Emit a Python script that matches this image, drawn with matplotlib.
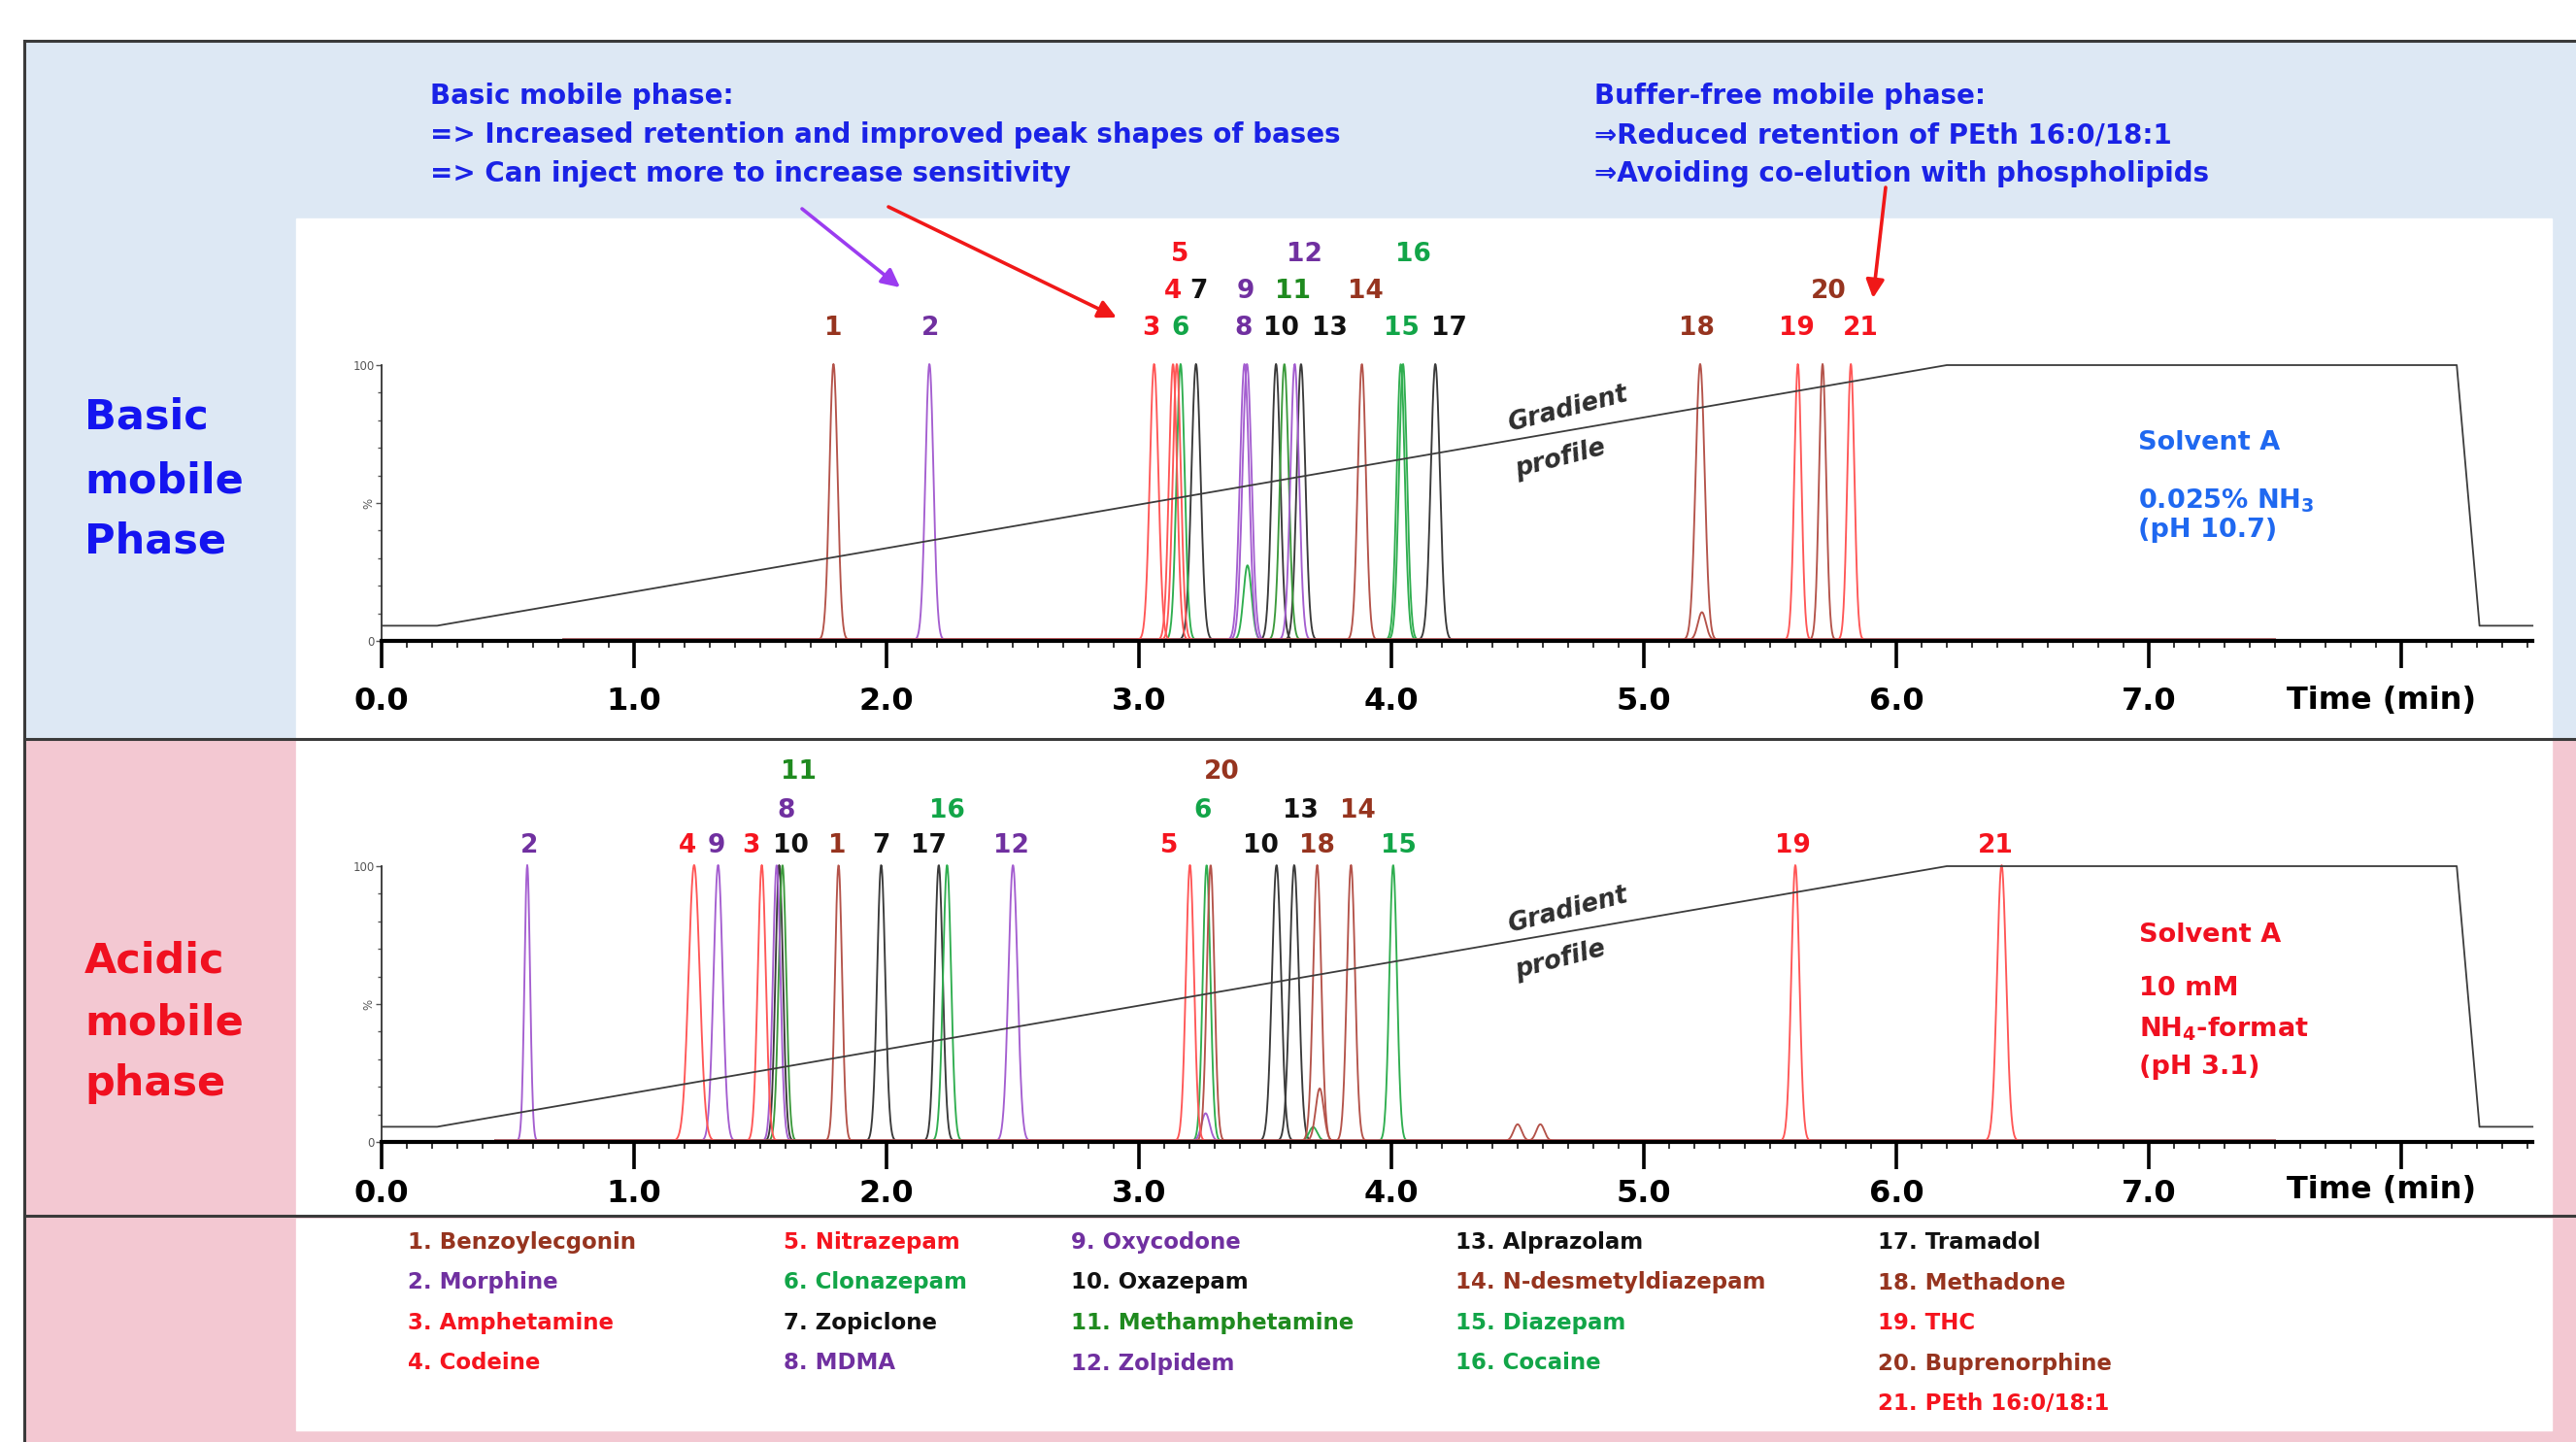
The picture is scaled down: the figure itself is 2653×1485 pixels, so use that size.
import numpy as np
import matplotlib.pyplot as plt
from matplotlib.patches import Rectangle, FancyArrowPatch

W, H = 2653, 1485

# compounds (legend order) and colour group
compounds = ['Benzoylecgonin', 'Morphine', 'Amphetamine', 'Codeine', 'Nitrazepam', 'Clonazepam',
             'Zopiclone', 'MDMA', 'Oxycodone', 'Oxazepam', 'Methamphetamine', 'Zolpidem',
             'Alprazolam', 'N-desmetyldiazepam', 'Diazepam', 'Cocaine', 'Tramadol', 'Methadone',
             'THC', 'Buprenorphine', 'PEth 16:0/18:1']
compound_group = ['brown', 'purple', 'red', 'red', 'red', 'green', 'black', 'purple', 'purple',
                  'black', 'dkgreen', 'purple', 'black', 'brown', 'green', 'green', 'black',
                  'brown', 'red', 'brown', 'red']
legend_counts = [4, 4, 4, 4, 5]

# basic mobile phase chromatogram
basic_ids = [1, 2, 3, 4, 5, 6, 7, 8, 9, 10, 11, 12, 13, 14, 15, 16, 17, 18, 19, 20, 21]
basic_rt = [1.79, 2.17, 3.06, 3.135, 3.15, 3.165, 3.226, 3.418, 3.428, 3.543, 3.576,
            3.617, 3.642, 3.883, 4.037, 4.046, 4.174, 5.223, 5.61, 5.708, 5.82]
basic_height = [100, 100, 100, 100, 100, 100, 100, 100, 100, 100, 100,
                100, 100, 100, 100, 100, 100, 100, 100, 100, 100]
basic_sd = [0.016, 0.016, 0.017, 0.016, 0.016, 0.016, 0.018, 0.018, 0.018, 0.017, 0.017,
            0.017, 0.017, 0.016, 0.016, 0.016, 0.018, 0.018, 0.014, 0.014, 0.014]
basic_minor_ids = [6, 20]
basic_minor_rt = [3.43, 5.23]
basic_minor_height = [27, 10]
basic_span = [0.72, 7.5]

basic_label_ids = [1, 2, 3, 6, 8, 10, 13, 15, 17, 18, 19, 21, 4, 7, 9, 11, 14, 20, 5, 12, 16]
basic_label_x = [1.79, 2.175, 3.046, 3.165, 3.412, 3.565, 3.755, 4.042, 4.229, 5.21, 5.604, 5.86,
                 3.133, 3.238, 3.422, 3.608, 3.896, 5.73, 3.162, 3.655, 4.088]
basic_label_row = [0] * 12 + [1] * 6 + [2] * 3

# acidic mobile phase chromatogram
acid_ids = [2, 4, 9, 3, 8, 10, 11, 1, 7, 17, 16, 12, 5, 6, 20, 10, 13, 18, 14, 15, 19, 21]
acid_rt = [0.577, 1.238, 1.333, 1.506, 1.565, 1.575, 1.588, 1.81, 1.979, 2.207, 2.24,
           2.501, 3.202, 3.268, 3.284, 3.545, 3.615, 3.706, 3.84, 4.007, 5.60, 6.417]
acid_height = [100, 100, 100, 100, 100, 100, 100, 100, 100, 100, 100,
               100, 100, 100, 100, 100, 100, 100, 100, 100, 100, 100]
acid_sd = [0.011, 0.022, 0.018, 0.016, 0.015, 0.015, 0.015, 0.014, 0.016, 0.016, 0.016,
           0.018, 0.016, 0.015, 0.015, 0.018, 0.018, 0.016, 0.016, 0.015, 0.016, 0.018]
acid_minor_ids = [12, 20, 6, 1, 1]
acid_minor_rt = [3.264, 3.716, 3.69, 4.50, 4.59]
acid_minor_height = [10, 19, 5, 6, 6]
acid_span = [0.45, 7.5]

acid_label_ids = [2, 4, 9, 3, 10, 1, 7, 17, 12, 5, 10, 18, 15, 19, 21, 8, 16, 6, 13, 14, 11, 20]
acid_label_x = [0.583, 1.212, 1.327, 1.464, 1.62, 1.806, 1.979, 2.168, 2.495, 3.121, 3.482,
                3.704, 4.03, 5.59, 6.394, 1.604, 2.24, 3.251, 3.64, 3.867, 1.653, 3.328]
acid_label_row = [0] * 15 + [1] * 5 + [2] * 2

# gradient profile (% B)
gradient_t = [0.0, 0.22, 6.2, 8.22, 8.31, 8.52]
gradient_pct = [5.5, 5.5, 100, 100, 5.5, 5.5]

tick_vals = [0, 1, 2, 3, 4, 5, 6, 7, 8]
tick_labels = ['0.0', '1.0', '2.0', '3.0', '4.0', '5.0', '6.0', '7.0', '']

label_col = {'brown': '#96341f', 'purple': '#7030a0', 'red': '#f5141e',
             'green': '#12a548', 'dkgreen': '#1f8a1f', 'black': '#111111'}
line_col = {'brown': '#b4534a', 'purple': '#a45ed0', 'red': '#ff5656',
            'green': '#2fae4f', 'dkgreen': '#3c9a3c', 'black': '#3a3a3a'}
draw_order = ['black', 'green', 'dkgreen', 'purple', 'brown', 'red']

BLUE = '#1a22e6'
BOLD = dict(fontweight='bold', family='DejaVu Sans')


def fx(x):
    return x / W


def fy(y):
    return 1 - y / H


def box(x0, y0, x1, y1, color, z):
    fig.patches.append(Rectangle((fx(x0), fy(y1)), (x1 - x0) / W, (y1 - y0) / H,
                                 transform=fig.transFigure, color=color, zorder=z))


fig = plt.figure(figsize=(W / 100, H / 100), dpi=100)

# panel backgrounds
box(25, 42, W + 5, 761, '#dde8f4', -3)
box(25, 761, W + 5, H + 5, '#f3c8d2', -3)
for y0, y1 in [(225, 759), (763, 1250), (1255, 1473)]:
    box(305, y0, 2628, y1, 'white', -2)
for y in [42, 761, 1252]:
    fig.add_artist(plt.Line2D([fx(25), 1], [fy(y), fy(y)], color='#3a3a3a', lw=2.2,
                              transform=fig.transFigure, zorder=-1))
fig.add_artist(plt.Line2D([fx(25), fx(25)], [0, fy(42)], color='#3a3a3a', lw=2.2,
                          transform=fig.transFigure, zorder=-1))


def chromatogram(y_base, ids, rt, height, sd, minor_ids, minor_rt, minor_height, span,
                 lab_ids, lab_x, lab_row, row_y, pad, time_y):
    ax = fig.add_axes([fx(393), fy(y_base), 8.52 * 260 / W, 284 / H])
    ax.set_zorder(1)
    ax.set_xlim(0, 8.52)
    ax.set_ylim(0, 100)
    ax.patch.set_alpha(0)
    t = np.linspace(span[0], span[1], 4000)
    entries = []
    for i, r, h, s in zip(ids, rt, height, sd):
        y = h * np.exp(-0.5 * ((t - r) / s) ** 2)
        for mi, mr, mh in zip(minor_ids, minor_rt, minor_height):
            if mi == i:
                y = y + mh * np.exp(-0.5 * ((t - mr) / 0.016) ** 2)
        entries.append((compound_group[i - 1], y))
    for g in draw_order:
        for grp, y in entries:
            if grp == g:
                ax.plot(t, y + 0.4, color=line_col[g], lw=1.35, zorder=2, clip_on=False)
    ax.plot(gradient_t, gradient_pct, color='#3c3c3c', lw=1.3, zorder=3, clip_on=False)

    for sp in ['top', 'right']:
        ax.spines[sp].set_visible(False)
    ax.spines['bottom'].set_linewidth(3)
    ax.spines['left'].set_linewidth(1.3)
    ax.spines['left'].set_color('#333333')
    ax.set_xticks(tick_vals)
    ax.set_xticklabels(tick_labels, fontsize=23, **BOLD)
    ax.set_xticks(np.arange(0, 8.52, 0.1), minor=True)
    ax.tick_params(axis='x', which='major', direction='out', length=20, width=2.6, pad=pad)
    ax.tick_params(axis='x', which='minor', direction='out', length=5, width=1.1)
    ax.set_yticks([0, 50, 100])
    ax.set_yticklabels(['0', '%', '100'], fontsize=8.5, color='#666666')
    ax.get_yticklabels()[1].set_rotation(90)
    ax.set_yticks(np.arange(0, 101, 10), minor=True)
    ax.tick_params(axis='y', which='major', length=4, width=1, pad=1, colors='#555555')
    ax.tick_params(axis='y', which='minor', length=3, width=1, colors='#555555')

    ax.text(7.92, time_y, 'Time (min)', ha='center', va='baseline', fontsize=23,
            clip_on=False, **BOLD)
    for lid, lx, lr in zip(lab_ids, lab_x, lab_row):
        ax.text(lx, row_y[lr], str(lid), ha='center', va='baseline', fontsize=19,
                color=label_col[compound_group[lid - 1]], clip_on=False, **BOLD)
    ax.text(4.70, 84, 'Gradient', rotation=14.5, ha='center', va='center', fontsize=18.5,
            color='#2e2e2e', style='italic', fontweight='bold', rotation_mode='anchor')
    ax.text(4.67, 66, 'profile', rotation=14.5, ha='center', va='center', fontsize=18.5,
            color='#2e2e2e', style='italic', fontweight='bold', rotation_mode='anchor')
    return ax


chromatogram(660, basic_ids, basic_rt, basic_height, basic_sd, basic_minor_ids,
             basic_minor_rt, basic_minor_height, basic_span, basic_label_ids,
             basic_label_x, basic_label_row, [110.9, 124.3, 137.7], 14, -24.6)
chromatogram(1176, acid_ids, acid_rt, acid_height, acid_sd, acid_minor_ids,
             acid_minor_rt, acid_minor_height, acid_span, acid_label_ids,
             acid_label_x, acid_label_row, [104.9, 117.6, 131.7], 7, -20.4)

# side titles
for txt, y in zip(['Basic', 'mobile', 'Phase'], [442, 507, 570]):
    fig.text(fx(87), fy(y), txt, fontsize=31, color='#1414f0', va='baseline', **BOLD)
for txt, y in zip(['Acidic', 'mobile', 'phase'], [1001, 1066, 1128]):
    fig.text(fx(87), fy(y), txt, fontsize=31, color='#f01020', va='baseline', **BOLD)

# annotations
for txt, y in zip(['Basic mobile phase:', '=> Increased retention and improved peak shapes of bases',
                   '=> Can inject more to increase sensitivity'], [107, 147, 187]):
    fig.text(fx(443), fy(y), txt, fontsize=20, color=BLUE, va='baseline', **BOLD)
for txt, y in zip(['Buffer-free mobile phase:', '\u21d2Reduced retention of PEth 16:0/18:1',
                   '\u21d2Avoiding co-elution with phospholipids'], [107, 147, 187]):
    fig.text(fx(1642), fy(y), txt, fontsize=20, color=BLUE, va='baseline', **BOLD)

for (x0, y0), (x1, y1), c in [((826, 215), (927, 296), '#9b3cf0'),
                              ((915, 213), (1150, 327), '#f01818'),
                              ((1942, 193), (1929, 307), '#f01818')]:
    fig.add_artist(FancyArrowPatch((fx(x0), fy(y0)), (fx(x1), fy(y1)), transform=fig.transFigure,
                                   arrowstyle='-|>', mutation_scale=28, lw=2.6, color=c,
                                   shrinkA=0, shrinkB=0))

# solvent info
for txt, y in zip(['Solvent A', '0.025% NH$_\\mathbf{3}$', '(pH 10.7)'], [463, 523, 553]):
    fig.text(fx(2202), fy(y), txt, fontsize=19.5, color='#1f68f0', va='baseline', **BOLD)
for txt, y in zip(['Solvent A', '10 mM', 'NH$_\\mathbf{4}$-format', '(pH 3.1)'], [970, 1025, 1067, 1106]):
    fig.text(fx(2203), fy(y), txt, fontsize=19.5, color='#f01020', va='baseline', **BOLD)

# compound legend
col_x = [420, 807, 1103, 1499, 1934]
k = 0
for c, n in enumerate(legend_counts):
    for r in range(n):
        g = compound_group[k]
        fig.text(fx(col_x[c]), fy(1286 + r * 41.5), '%d. %s' % (k + 1, compounds[k]), fontsize=16.5,
                 color=label_col[g], va='baseline', **BOLD)
        k += 1

fig.savefig('out.png', dpi=100)
